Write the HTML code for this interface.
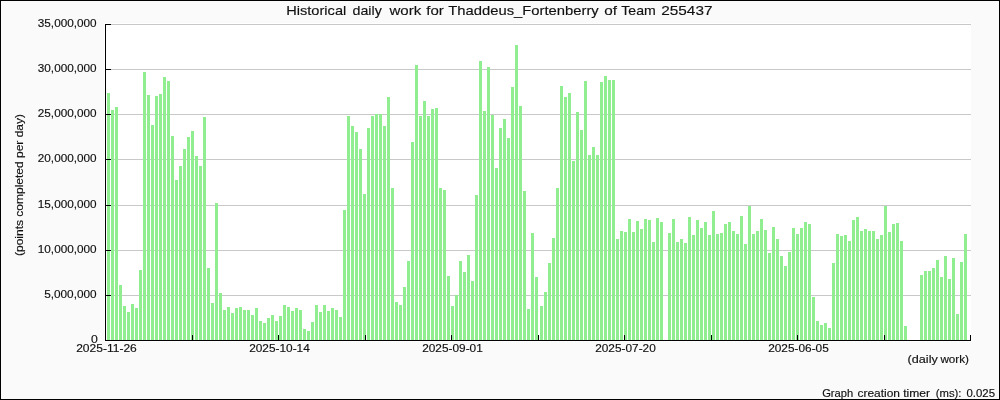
<!DOCTYPE html><html><head><meta charset="utf-8"><title>chart</title><style>html,body{margin:0;padding:0;background:#fafafa}svg{display:block}text{font-family:"Liberation Sans",sans-serif;fill:#111;stroke:#111;stroke-width:0.15px}</style></head><body>
<svg width="1000" height="400" viewBox="0 0 1000 400">
<rect x="0" y="0" width="1000" height="400" fill="#fafafa"/>
<rect x="0.5" y="0.5" width="999" height="399" fill="none" stroke="#000" stroke-width="1"/>
<rect x="104" y="23" width="867" height="319" fill="#ffffff"/>
<rect x="111" y="24" width="860" height="1" fill="#c8c8c8"/>
<rect x="111" y="69" width="860" height="1" fill="#c8c8c8"/>
<rect x="111" y="114" width="860" height="1" fill="#c8c8c8"/>
<rect x="111" y="159" width="860" height="1" fill="#c8c8c8"/>
<rect x="111" y="205" width="860" height="1" fill="#c8c8c8"/>
<rect x="111" y="250" width="860" height="1" fill="#c8c8c8"/>
<rect x="111" y="295" width="860" height="1" fill="#c8c8c8"/>
<g fill="#90ee90" shape-rendering="crispEdges">
<rect x="107" y="93" width="3" height="247"/>
<rect x="111" y="110" width="3" height="230"/>
<rect x="115" y="107" width="3" height="233"/>
<rect x="119" y="285" width="3" height="55"/>
<rect x="123" y="306" width="3" height="34"/>
<rect x="127" y="312" width="3" height="28"/>
<rect x="131" y="304" width="3" height="36"/>
<rect x="135" y="308" width="3" height="32"/>
<rect x="139" y="270" width="3" height="70"/>
<rect x="143" y="72" width="3" height="268"/>
<rect x="147" y="95" width="3" height="245"/>
<rect x="151" y="125" width="3" height="215"/>
<rect x="155" y="96" width="3" height="244"/>
<rect x="159" y="94" width="3" height="246"/>
<rect x="163" y="77" width="3" height="263"/>
<rect x="167" y="81" width="3" height="259"/>
<rect x="171" y="136" width="3" height="204"/>
<rect x="175" y="180" width="3" height="160"/>
<rect x="179" y="166" width="3" height="174"/>
<rect x="183" y="149" width="3" height="191"/>
<rect x="187" y="137" width="3" height="203"/>
<rect x="191" y="131" width="3" height="209"/>
<rect x="195" y="156" width="3" height="184"/>
<rect x="199" y="166" width="3" height="174"/>
<rect x="203" y="117" width="3" height="223"/>
<rect x="207" y="268" width="3" height="72"/>
<rect x="211" y="303" width="3" height="37"/>
<rect x="215" y="203" width="3" height="137"/>
<rect x="219" y="293" width="3" height="47"/>
<rect x="223" y="310" width="3" height="30"/>
<rect x="227" y="307" width="3" height="33"/>
<rect x="231" y="313" width="3" height="27"/>
<rect x="235" y="308" width="3" height="32"/>
<rect x="239" y="307" width="3" height="33"/>
<rect x="243" y="310" width="3" height="30"/>
<rect x="247" y="310" width="3" height="30"/>
<rect x="251" y="315" width="3" height="25"/>
<rect x="255" y="308" width="3" height="32"/>
<rect x="259" y="321" width="3" height="19"/>
<rect x="263" y="323" width="3" height="17"/>
<rect x="267" y="318" width="3" height="22"/>
<rect x="271" y="315" width="3" height="25"/>
<rect x="275" y="321" width="3" height="19"/>
<rect x="279" y="316" width="3" height="24"/>
<rect x="283" y="305" width="3" height="35"/>
<rect x="287" y="307" width="3" height="33"/>
<rect x="291" y="311" width="3" height="29"/>
<rect x="295" y="308" width="3" height="32"/>
<rect x="299" y="310" width="3" height="30"/>
<rect x="303" y="329" width="3" height="11"/>
<rect x="307" y="331" width="3" height="9"/>
<rect x="311" y="322" width="3" height="18"/>
<rect x="315" y="305" width="3" height="35"/>
<rect x="319" y="312" width="3" height="28"/>
<rect x="323" y="305" width="3" height="35"/>
<rect x="327" y="311" width="3" height="29"/>
<rect x="331" y="308" width="3" height="32"/>
<rect x="335" y="310" width="3" height="30"/>
<rect x="339" y="317" width="3" height="23"/>
<rect x="343" y="210" width="3" height="130"/>
<rect x="347" y="116" width="3" height="224"/>
<rect x="351" y="126" width="3" height="214"/>
<rect x="355" y="132" width="3" height="208"/>
<rect x="359" y="149" width="3" height="191"/>
<rect x="363" y="194" width="3" height="146"/>
<rect x="367" y="128" width="3" height="212"/>
<rect x="371" y="116" width="3" height="224"/>
<rect x="375" y="114" width="3" height="226"/>
<rect x="379" y="114" width="3" height="226"/>
<rect x="383" y="126" width="3" height="214"/>
<rect x="387" y="97" width="3" height="243"/>
<rect x="391" y="188" width="3" height="152"/>
<rect x="395" y="302" width="3" height="38"/>
<rect x="399" y="305" width="3" height="35"/>
<rect x="403" y="287" width="3" height="53"/>
<rect x="407" y="261" width="3" height="79"/>
<rect x="411" y="142" width="3" height="198"/>
<rect x="415" y="65" width="3" height="275"/>
<rect x="419" y="116" width="3" height="224"/>
<rect x="423" y="101" width="3" height="239"/>
<rect x="427" y="116" width="3" height="224"/>
<rect x="431" y="109" width="3" height="231"/>
<rect x="435" y="108" width="3" height="232"/>
<rect x="439" y="188" width="3" height="152"/>
<rect x="443" y="190" width="3" height="150"/>
<rect x="447" y="276" width="3" height="64"/>
<rect x="451" y="306" width="3" height="34"/>
<rect x="455" y="295" width="3" height="45"/>
<rect x="459" y="261" width="3" height="79"/>
<rect x="463" y="272" width="3" height="68"/>
<rect x="467" y="255" width="3" height="85"/>
<rect x="471" y="281" width="3" height="59"/>
<rect x="475" y="195" width="3" height="145"/>
<rect x="479" y="61" width="3" height="279"/>
<rect x="483" y="111" width="3" height="229"/>
<rect x="487" y="67" width="3" height="273"/>
<rect x="491" y="115" width="3" height="225"/>
<rect x="495" y="168" width="3" height="172"/>
<rect x="499" y="128" width="3" height="212"/>
<rect x="503" y="119" width="3" height="221"/>
<rect x="507" y="138" width="3" height="202"/>
<rect x="511" y="87" width="3" height="253"/>
<rect x="515" y="45" width="3" height="295"/>
<rect x="519" y="106" width="3" height="234"/>
<rect x="523" y="191" width="3" height="149"/>
<rect x="527" y="309" width="3" height="31"/>
<rect x="531" y="233" width="3" height="107"/>
<rect x="535" y="277" width="3" height="63"/>
<rect x="540" y="306" width="3" height="34"/>
<rect x="544" y="292" width="3" height="48"/>
<rect x="548" y="263" width="3" height="77"/>
<rect x="552" y="238" width="3" height="102"/>
<rect x="556" y="188" width="3" height="152"/>
<rect x="560" y="86" width="3" height="254"/>
<rect x="564" y="97" width="3" height="243"/>
<rect x="568" y="93" width="3" height="247"/>
<rect x="572" y="161" width="3" height="179"/>
<rect x="576" y="112" width="3" height="228"/>
<rect x="580" y="130" width="3" height="210"/>
<rect x="584" y="81" width="3" height="259"/>
<rect x="588" y="155" width="3" height="185"/>
<rect x="592" y="147" width="3" height="193"/>
<rect x="596" y="155" width="3" height="185"/>
<rect x="600" y="82" width="3" height="258"/>
<rect x="604" y="76" width="3" height="264"/>
<rect x="608" y="80" width="3" height="260"/>
<rect x="612" y="80" width="3" height="260"/>
<rect x="616" y="239" width="3" height="101"/>
<rect x="620" y="231" width="3" height="109"/>
<rect x="624" y="232" width="3" height="108"/>
<rect x="628" y="219" width="3" height="121"/>
<rect x="632" y="232" width="3" height="108"/>
<rect x="636" y="221" width="3" height="119"/>
<rect x="640" y="229" width="3" height="111"/>
<rect x="644" y="219" width="3" height="121"/>
<rect x="648" y="220" width="3" height="120"/>
<rect x="652" y="242" width="3" height="98"/>
<rect x="656" y="218" width="3" height="122"/>
<rect x="660" y="222" width="3" height="118"/>
<rect x="668" y="233" width="3" height="107"/>
<rect x="672" y="219" width="3" height="121"/>
<rect x="676" y="242" width="3" height="98"/>
<rect x="680" y="239" width="3" height="101"/>
<rect x="684" y="243" width="3" height="97"/>
<rect x="688" y="217" width="3" height="123"/>
<rect x="692" y="235" width="3" height="105"/>
<rect x="696" y="220" width="3" height="120"/>
<rect x="700" y="228" width="3" height="112"/>
<rect x="704" y="222" width="3" height="118"/>
<rect x="708" y="235" width="3" height="105"/>
<rect x="712" y="211" width="3" height="129"/>
<rect x="716" y="234" width="3" height="106"/>
<rect x="720" y="233" width="3" height="107"/>
<rect x="724" y="224" width="3" height="116"/>
<rect x="728" y="222" width="3" height="118"/>
<rect x="732" y="231" width="3" height="109"/>
<rect x="736" y="234" width="3" height="106"/>
<rect x="740" y="216" width="3" height="124"/>
<rect x="744" y="244" width="3" height="96"/>
<rect x="748" y="206" width="3" height="134"/>
<rect x="752" y="234" width="3" height="106"/>
<rect x="756" y="231" width="3" height="109"/>
<rect x="760" y="219" width="3" height="121"/>
<rect x="764" y="230" width="3" height="110"/>
<rect x="768" y="253" width="3" height="87"/>
<rect x="772" y="227" width="3" height="113"/>
<rect x="776" y="239" width="3" height="101"/>
<rect x="780" y="256" width="3" height="84"/>
<rect x="784" y="266" width="3" height="74"/>
<rect x="788" y="252" width="3" height="88"/>
<rect x="792" y="228" width="3" height="112"/>
<rect x="796" y="234" width="3" height="106"/>
<rect x="800" y="228" width="3" height="112"/>
<rect x="804" y="222" width="3" height="118"/>
<rect x="808" y="224" width="3" height="116"/>
<rect x="812" y="297" width="3" height="43"/>
<rect x="816" y="321" width="3" height="19"/>
<rect x="820" y="325" width="3" height="15"/>
<rect x="824" y="323" width="3" height="17"/>
<rect x="828" y="328" width="3" height="12"/>
<rect x="832" y="263" width="3" height="77"/>
<rect x="836" y="234" width="3" height="106"/>
<rect x="840" y="236" width="3" height="104"/>
<rect x="844" y="235" width="3" height="105"/>
<rect x="848" y="241" width="3" height="99"/>
<rect x="852" y="220" width="3" height="120"/>
<rect x="856" y="217" width="3" height="123"/>
<rect x="860" y="231" width="3" height="109"/>
<rect x="864" y="229" width="3" height="111"/>
<rect x="868" y="231" width="3" height="109"/>
<rect x="872" y="231" width="3" height="109"/>
<rect x="876" y="239" width="3" height="101"/>
<rect x="880" y="235" width="3" height="105"/>
<rect x="884" y="206" width="3" height="134"/>
<rect x="888" y="232" width="3" height="108"/>
<rect x="892" y="224" width="3" height="116"/>
<rect x="896" y="223" width="3" height="117"/>
<rect x="900" y="241" width="3" height="99"/>
<rect x="904" y="326" width="3" height="14"/>
<rect x="920" y="275" width="3" height="65"/>
<rect x="924" y="271" width="3" height="69"/>
<rect x="928" y="271" width="3" height="69"/>
<rect x="932" y="268" width="3" height="72"/>
<rect x="936" y="260" width="3" height="80"/>
<rect x="940" y="277" width="3" height="63"/>
<rect x="944" y="256" width="3" height="84"/>
<rect x="948" y="279" width="3" height="61"/>
<rect x="952" y="258" width="3" height="82"/>
<rect x="956" y="314" width="3" height="26"/>
<rect x="960" y="262" width="3" height="78"/>
<rect x="964" y="234" width="3" height="106"/>
</g>
<g fill="#000" shape-rendering="crispEdges">
<rect x="105" y="24" width="1" height="317"/>
<rect x="105" y="340" width="866" height="1"/>
<rect x="105" y="24" width="6" height="1"/>
<rect x="105" y="69" width="6" height="1"/>
<rect x="105" y="114" width="6" height="1"/>
<rect x="105" y="159" width="6" height="1"/>
<rect x="105" y="205" width="6" height="1"/>
<rect x="105" y="250" width="6" height="1"/>
<rect x="105" y="295" width="6" height="1"/>
<rect x="192" y="335" width="1" height="6"/>
<rect x="278" y="335" width="1" height="6"/>
<rect x="365" y="335" width="1" height="6"/>
<rect x="451" y="335" width="1" height="6"/>
<rect x="538" y="335" width="1" height="6"/>
<rect x="624" y="335" width="1" height="6"/>
<rect x="711" y="335" width="1" height="6"/>
<rect x="797" y="335" width="1" height="6"/>
<rect x="884" y="335" width="1" height="6"/>
<rect x="970" y="335" width="1" height="6"/>
</g>
<g style="will-change:opacity;opacity:0.999">
<text x="286.25" y="14.5" font-size="13" textLength="60.0" lengthAdjust="spacingAndGlyphs">Historical</text>
<text x="352.5" y="14.5" font-size="13" textLength="29.25" lengthAdjust="spacingAndGlyphs">daily</text>
<text x="389.5" y="14.5" font-size="13" textLength="31.75" lengthAdjust="spacingAndGlyphs">work</text>
<text x="426.25" y="14.5" font-size="13" textLength="17.5" lengthAdjust="spacingAndGlyphs">for</text>
<text x="448.25" y="14.5" font-size="13" textLength="150.5" lengthAdjust="spacingAndGlyphs">Thaddeus_Fortenberry</text>
<text x="604.25" y="14.5" font-size="13" textLength="12.75" lengthAdjust="spacingAndGlyphs">of</text>
<text x="621.25" y="14.5" font-size="13" textLength="34.5" lengthAdjust="spacingAndGlyphs">Team</text>
<text x="661.25" y="14.5" font-size="13" textLength="51.25" lengthAdjust="spacingAndGlyphs">255437</text>
<text x="37.8" y="26.8" font-size="10.6" textLength="58.8" lengthAdjust="spacingAndGlyphs">35,000,000</text>
<text x="37.8" y="71.8" font-size="10.6" textLength="58.8" lengthAdjust="spacingAndGlyphs">30,000,000</text>
<text x="37.8" y="116.8" font-size="10.6" textLength="58.8" lengthAdjust="spacingAndGlyphs">25,000,000</text>
<text x="37.8" y="161.8" font-size="10.6" textLength="58.8" lengthAdjust="spacingAndGlyphs">20,000,000</text>
<text x="37.8" y="207.8" font-size="10.6" textLength="58.8" lengthAdjust="spacingAndGlyphs">15,000,000</text>
<text x="37.8" y="252.8" font-size="10.6" textLength="58.8" lengthAdjust="spacingAndGlyphs">10,000,000</text>
<text x="44.199999999999996" y="297.8" font-size="10.6" textLength="52.4" lengthAdjust="spacingAndGlyphs">5,000,000</text>
<text x="91.10000000000001" y="342.8" font-size="10.6" textLength="6.8" lengthAdjust="spacingAndGlyphs">0</text>
<text x="76.2" y="351.9" font-size="10.6" textLength="60.6" lengthAdjust="spacingAndGlyphs">2025-11-26</text>
<text x="249.2" y="351.9" font-size="10.6" textLength="60.6" lengthAdjust="spacingAndGlyphs">2025-10-14</text>
<text x="422.2" y="351.9" font-size="10.6" textLength="60.6" lengthAdjust="spacingAndGlyphs">2025-09-01</text>
<text x="595.2" y="351.9" font-size="10.6" textLength="60.6" lengthAdjust="spacingAndGlyphs">2025-07-20</text>
<text x="768.2" y="351.9" font-size="10.6" textLength="60.6" lengthAdjust="spacingAndGlyphs">2025-06-05</text>
<text x="907.6" y="362.6" font-size="10.6" textLength="30.2" lengthAdjust="spacingAndGlyphs">(daily</text>
<text x="940.4" y="362.6" font-size="10.6" textLength="28.6" lengthAdjust="spacingAndGlyphs">work)</text>
<text x="822.2" y="396.6" font-size="10.6" textLength="31.0" lengthAdjust="spacingAndGlyphs">Graph</text>
<text x="857.5" y="396.6" font-size="10.6" textLength="42.5" lengthAdjust="spacingAndGlyphs">creation</text>
<text x="903.2" y="396.6" font-size="10.6" textLength="26.8" lengthAdjust="spacingAndGlyphs">timer</text>
<text x="935.8" y="396.6" font-size="10.6" textLength="25.7" lengthAdjust="spacingAndGlyphs">(ms):</text>
<text x="966.5" y="396.6" font-size="10.6" textLength="28.5" lengthAdjust="spacingAndGlyphs">0.025</text>
<text transform="translate(22.5,256) rotate(-90)" font-size="10.6" textLength="142" lengthAdjust="spacingAndGlyphs">(points completed per day)</text>
</g>
</svg></body></html>
